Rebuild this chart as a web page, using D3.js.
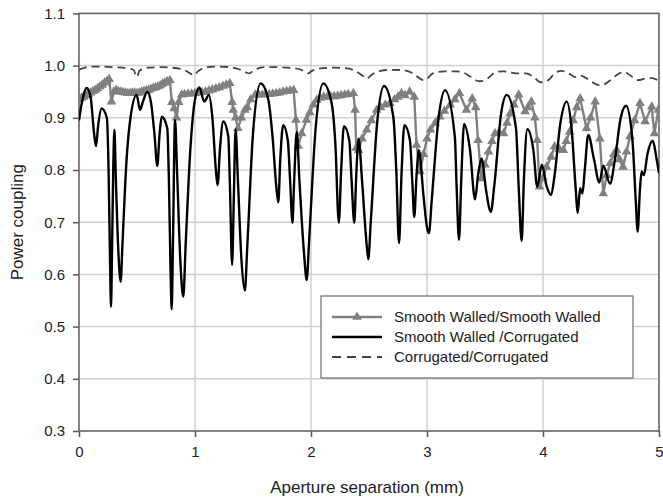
<!DOCTYPE html>
<html><head><meta charset="utf-8">
<script src="https://cdn.jsdelivr.net/npm/d3@7"></script>
<style>body{margin:0;background:#fff}svg{display:block}text{font-family:"Liberation Sans",Arial,sans-serif;fill:#222}</style>
</head><body><svg id="c" width="663" height="499"></svg>
<script>
// Smooth Walled / Corrugated (black solid)
const swcX = [0.00,0.03,0.066,0.10,0.13,0.147,0.165,0.195,0.24,0.255,0.268,0.276,0.285,0.295,0.305,0.318,0.34,0.359,0.375,0.41,0.445,0.497,0.526,0.55,0.589,0.62,0.65,0.675,0.695,0.713,0.761,0.775,0.79,0.799,0.81,0.828,0.845,0.875,0.899,0.92,0.96,1.00,1.037,1.08,1.12,1.15,1.18,1.195,1.215,1.244,1.287,1.30,1.32,1.335,1.35,1.37,1.40,1.43,1.45,1.50,1.566,1.63,1.67,1.70,1.718,1.735,1.76,1.80,1.82,1.84,1.855,1.877,1.90,1.94,1.963,1.985,2.04,2.106,2.178,2.21,2.24,2.26,2.284,2.33,2.35,2.373,2.39,2.41,2.44,2.475,2.494,2.515,2.57,2.63,2.71,2.735,2.759,2.78,2.805,2.853,2.875,2.89,2.91,2.93,2.97,3.00,3.017,3.04,3.10,3.155,3.24,3.255,3.276,3.295,3.32,3.37,3.414,3.44,3.47,3.51,3.55,3.58,3.64,3.687,3.767,3.79,3.816,3.835,3.865,3.917,3.95,3.99,4.03,4.07,4.10,4.15,4.204,4.25,4.28,4.30,4.32,4.34,4.36,4.39,4.44,4.486,4.52,4.578,4.62,4.67,4.716,4.77,4.80,4.816,4.835,4.85,4.87,4.90,4.946,4.98,5.00];
const swcY = [0.895,0.935,0.957,0.94,0.87,0.846,0.885,0.918,0.90,0.80,0.62,0.538,0.65,0.80,0.877,0.78,0.64,0.586,0.66,0.82,0.902,0.944,0.915,0.93,0.95,0.93,0.87,0.808,0.87,0.902,0.88,0.78,0.60,0.533,0.66,0.896,0.80,0.62,0.557,0.66,0.84,0.935,0.958,0.931,0.944,0.90,0.80,0.771,0.84,0.893,0.864,0.78,0.618,0.75,0.878,0.78,0.63,0.569,0.65,0.87,0.966,0.937,0.86,0.77,0.738,0.82,0.886,0.857,0.78,0.699,0.78,0.873,0.78,0.64,0.589,0.67,0.88,0.966,0.928,0.85,0.699,0.80,0.884,0.857,0.78,0.699,0.79,0.86,0.78,0.67,0.629,0.70,0.89,0.961,0.901,0.80,0.66,0.79,0.886,0.857,0.77,0.71,0.79,0.838,0.75,0.69,0.679,0.74,0.90,0.953,0.864,0.77,0.666,0.78,0.888,0.84,0.744,0.79,0.822,0.76,0.72,0.77,0.91,0.944,0.88,0.77,0.664,0.78,0.878,0.838,0.768,0.81,0.77,0.752,0.79,0.89,0.931,0.87,0.77,0.718,0.765,0.755,0.80,0.867,0.82,0.776,0.808,0.774,0.82,0.90,0.923,0.86,0.74,0.682,0.76,0.797,0.79,0.83,0.856,0.82,0.794];

// Smooth Walled / Smooth Walled (grey, triangles)
const swsX = [0.00,0.02,0.04,0.06,0.08,0.10,0.12,0.14,0.16,0.18,0.20,0.22,0.24,0.26,0.28,0.30,0.32,0.34,0.36,0.38,0.40,0.42,0.44,0.46,0.48,0.50,0.52,0.54,0.56,0.58,0.60,0.62,0.64,0.66,0.68,0.70,0.72,0.74,0.76,0.784,0.80,0.82,0.84,0.86,0.885,0.91,0.94,0.97,1.00,1.03,1.06,1.09,1.12,1.15,1.18,1.21,1.24,1.27,1.30,1.32,1.33,1.35,1.37,1.40,1.43,1.45,1.48,1.52,1.55,1.58,1.61,1.64,1.67,1.70,1.73,1.76,1.79,1.82,1.85,1.87,1.89,1.92,1.96,1.99,2.02,2.05,2.08,2.11,2.14,2.17,2.20,2.23,2.26,2.29,2.32,2.365,2.38,2.39,2.41,2.44,2.48,2.52,2.566,2.60,2.64,2.68,2.72,2.75,2.78,2.81,2.85,2.89,2.91,2.94,2.97,3.00,3.03,3.07,3.11,3.15,3.20,3.24,3.28,3.34,3.39,3.42,3.44,3.47,3.50,3.53,3.56,3.586,3.62,3.66,3.69,3.716,3.75,3.79,3.845,3.87,3.90,3.93,3.95,3.97,4.00,4.03,4.07,4.10,4.14,4.175,4.20,4.23,4.26,4.29,4.32,4.375,4.41,4.45,4.49,4.52,4.55,4.58,4.61,4.635,4.66,4.69,4.72,4.75,4.79,4.836,4.88,4.937,4.96,4.994];
const swsY = [0.935,0.938,0.94,0.943,0.945,0.948,0.951,0.953,0.956,0.96,0.963,0.967,0.97,0.974,0.931,0.95,0.953,0.951,0.95,0.949,0.948,0.947,0.947,0.948,0.948,0.947,0.948,0.95,0.951,0.952,0.953,0.955,0.957,0.958,0.96,0.962,0.965,0.967,0.97,0.972,0.93,0.918,0.90,0.93,0.944,0.945,0.946,0.946,0.947,0.948,0.949,0.95,0.952,0.954,0.956,0.958,0.961,0.963,0.966,0.93,0.915,0.90,0.88,0.90,0.915,0.92,0.935,0.944,0.944,0.944,0.945,0.945,0.946,0.947,0.948,0.95,0.951,0.952,0.953,0.896,0.846,0.87,0.896,0.91,0.925,0.934,0.938,0.94,0.94,0.941,0.941,0.942,0.943,0.944,0.945,0.947,0.915,0.842,0.838,0.86,0.877,0.895,0.915,0.92,0.925,0.928,0.935,0.94,0.947,0.943,0.95,0.94,0.848,0.797,0.83,0.86,0.877,0.89,0.902,0.913,0.925,0.935,0.947,0.915,0.937,0.92,0.857,0.784,0.81,0.835,0.855,0.87,0.872,0.87,0.89,0.908,0.925,0.944,0.912,0.92,0.931,0.90,0.857,0.768,0.785,0.806,0.825,0.845,0.84,0.838,0.855,0.873,0.895,0.92,0.937,0.88,0.90,0.931,0.86,0.755,0.79,0.813,0.83,0.838,0.82,0.806,0.835,0.864,0.895,0.928,0.893,0.921,0.87,0.915];

// Corrugated / Corrugated (dashed)
const ccX = [0,0.05,0.1,0.2,0.3,0.4,0.47,0.5,0.52,0.6,0.7,0.8,0.9,0.96,0.99,1.02,1.1,1.2,1.3,1.38,1.44,1.47,1.5,1.6,1.7,1.8,1.9,1.96,1.98,2.0,2.1,2.2,2.3,2.38,2.45,2.48,2.52,2.6,2.7,2.8,2.88,2.94,2.97,3.0,3.05,3.15,3.25,3.32,3.38,3.45,3.5,3.6,3.66,3.72,3.78,3.85,3.92,3.97,4.0,4.05,4.1,4.16,4.22,4.28,4.32,4.38,4.45,4.5,4.58,4.65,4.7,4.76,4.82,4.88,4.94,5.0];
const ccY = [0.992,0.996,0.998,0.998,0.997,0.995,0.992,0.978,0.99,0.996,0.997,0.996,0.992,0.985,0.981,0.988,0.997,0.998,0.997,0.993,0.987,0.985,0.99,0.997,0.997,0.996,0.993,0.987,0.985,0.989,0.995,0.996,0.995,0.99,0.98,0.975,0.982,0.99,0.992,0.991,0.985,0.975,0.972,0.975,0.985,0.989,0.989,0.986,0.978,0.97,0.972,0.988,0.989,0.987,0.985,0.985,0.978,0.969,0.968,0.973,0.985,0.99,0.985,0.978,0.981,0.975,0.965,0.962,0.972,0.984,0.988,0.98,0.972,0.975,0.976,0.97];

const xTicks = [0,1,2,3,4,5];
const yTicks = [0.3,0.4,0.5,0.6,0.7,0.8,0.9,1.0,1.1];
const seriesNames = ["Smooth Walled/Smooth Walled","Smooth Walled /Corrugated","Corrugated/Corrugated"];

const svg = d3.select("#c");
const L=79,R=659,T=13.4,B=431;
const x = d3.scaleLinear().domain([0,5]).range([L,R]);
const y = d3.scaleLinear().domain([0.3,1.1]).range([B,T]);

// grid
const g = svg.append("g");
g.selectAll(".gx").data(xTicks).enter().append("line")
  .attr("x1",d=>x(d)).attr("x2",d=>x(d)).attr("y1",T).attr("y2",B)
  .attr("stroke","#d0d0d0").attr("stroke-width",1.5);
g.selectAll(".gy").data(yTicks).enter().append("line")
  .attr("x1",L).attr("x2",R).attr("y1",d=>y(d)).attr("y2",d=>y(d))
  .attr("stroke","#d0d0d0").attr("stroke-width",1.5);

// axes
const xa = svg.append("g").attr("transform",`translate(0,${B})`)
  .call(d3.axisBottom(x).tickValues(xTicks).tickFormat(d3.format("d")).tickSize(6).tickPadding(9));
const ya = svg.append("g").attr("transform",`translate(${L},0)`)
  .call(d3.axisLeft(y).tickValues(yTicks).tickFormat(d3.format(".1f")).tickSize(6).tickPadding(8));
[xa,ya].forEach(a=>{
  a.select(".domain").remove();
  a.selectAll("line").attr("stroke","#555").attr("stroke-width",1.5);
  a.selectAll("text").style("font-size","15px").attr("fill","#222").style("font-family","Liberation Sans, Arial, sans-serif");
});
// frame
svg.append("rect").attr("x",L).attr("y",T).attr("width",R-L).attr("height",B-T)
  .attr("fill","none").attr("stroke","#666").attr("stroke-width",1.5);

svg.append("clipPath").attr("id","cp").append("rect").attr("x",L).attr("y",T).attr("width",R-L).attr("height",B-T);

const mk = (X,Y)=>X.map((v,i)=>[v,Y[i]]);
const cc = mk(ccX,ccY), sws = mk(swsX,swsY), swc = mk(swcX,swcY);

const plot = svg.append("g").attr("clip-path","url(#cp)");
plot.append("path").datum(cc)
  .attr("d",d3.line().x(d=>x(d[0])).y(d=>y(d[1])).curve(d3.curveMonotoneX))
  .attr("fill","none").attr("stroke","#444").attr("stroke-width",1.8).attr("stroke-dasharray","8,5");
plot.append("path").datum(sws)
  .attr("d",d3.line().x(d=>x(d[0])).y(d=>y(d[1])))
  .attr("fill","none").attr("stroke","#808080").attr("stroke-width",2.4);
const tri = d3.symbol().type(d3.symbolTriangle).size(40);
plot.selectAll(".tri").data(sws).enter().append("path")
  .attr("d",tri).attr("transform",d=>`translate(${x(d[0])},${y(d[1])})`)
  .attr("fill","#808080");
plot.append("path").datum(swc)
  .attr("d",d3.line().x(d=>x(d[0])).y(d=>y(d[1])).curve(d3.curveMonotoneX))
  .attr("fill","none").attr("stroke","#000").attr("stroke-width",2.4);

// axis titles
svg.append("text").attr("x",(L+R)/2-2).attr("y",493).attr("text-anchor","middle")
  .style("font-size","17px").text("Aperture separation (mm)");
svg.append("text").attr("transform",`translate(23,${(T+B)/2}) rotate(-90)`).attr("text-anchor","middle")
  .style("font-size","17px").text("Power coupling");

// legend
const lg = svg.append("g");
lg.append("rect").attr("x",321).attr("y",296).attr("width",312).attr("height",82)
  .attr("fill","#fff").attr("stroke","#777").attr("stroke-width",1.3);
const ly = [317,337,357];
lg.append("line").attr("x1",332).attr("x2",382).attr("y1",ly[0]).attr("y2",ly[0]).attr("stroke","#808080").attr("stroke-width",2.4);
lg.append("path").attr("d",tri).attr("transform",`translate(357,${ly[0]})`).attr("fill","#808080");
lg.append("line").attr("x1",332).attr("x2",382).attr("y1",ly[1]).attr("y2",ly[1]).attr("stroke","#000").attr("stroke-width",2.4);
lg.append("line").attr("x1",332).attr("x2",382).attr("y1",ly[2]).attr("y2",ly[2]).attr("stroke","#444").attr("stroke-width",1.8).attr("stroke-dasharray","9,6");
lg.selectAll(".lt").data(seriesNames).enter().append("text")
  .attr("x",394).attr("y",(d,i)=>ly[i]+5).style("font-size","15px").text(d=>d);
</script></body></html>
